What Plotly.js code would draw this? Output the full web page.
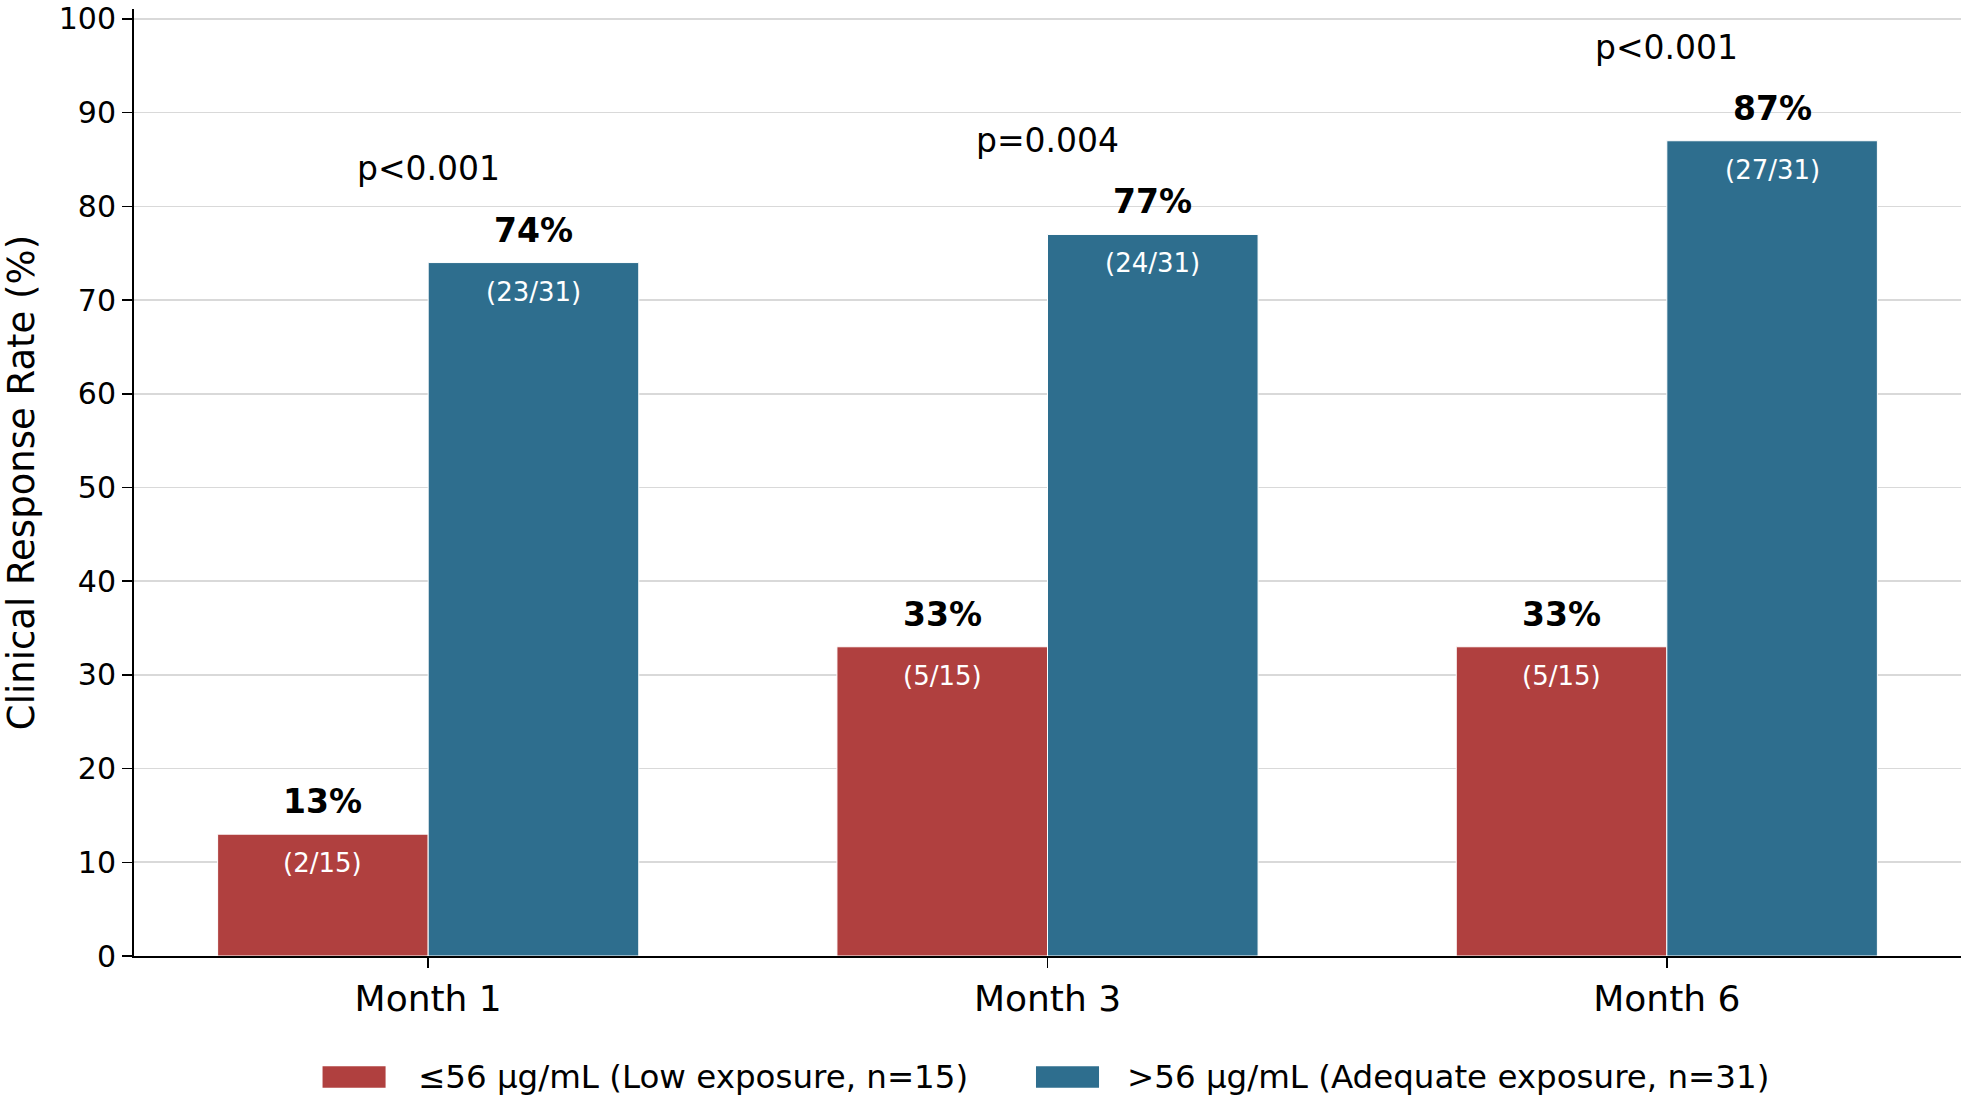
<!DOCTYPE html>
<html>
<head>
<meta charset="utf-8">
<script src="https://cdn.plot.ly/plotly-3.0.1.min.js"></script>
<style>
  html, body { margin: 0; padding: 0; background: #fff; }
  #chart { width: 1975px; height: 1100px; }
</style>
</head>
<body>
<div id="chart"></div>
<script>
// data
let months = ['Month 1', 'Month 3', 'Month 6']
let low_rate = [13, 33, 33]
let high_rate = [74, 77, 87]
let low_frac = ['2/15', '5/15', '5/15']
let high_frac = ['23/31', '24/31', '27/31']
let p_values = ['p<0.001', 'p=0.004', 'p<0.001']
let series_names = ['≤56 µg/mL (Low exposure, n=15)', '>56 µg/mL (Adequate exposure, n=31)']
let y_ticks = [0, 10, 20, 30, 40, 50, 60, 70, 80, 90, 100]

let red = '#b0403f'
let blue = '#2e6e8e'
let font = 'DejaVu Sans'

let low_trace = {
  x: months,
  y: low_rate,
  type: 'bar',
  name: series_names[0],
  offsetgroup: 'low',
  marker: { color: red, line: { color: 'white', width: 1 } },
  hoverinfo: 'skip'
}

let high_trace = {
  x: months,
  y: high_rate,
  type: 'bar',
  name: series_names[1],
  offsetgroup: 'high',
  marker: { color: blue, line: { color: 'white', width: 1 } },
  hoverinfo: 'skip'
}

// bar offsets in category units (each bar is half the group)
let bar_w = 0.34
let annotations = []
for (let i = 0; i < months.length; i++) {
  let xs = [i - bar_w / 2, i + bar_w / 2]
  let vals = [low_rate[i], high_rate[i]]
  let fracs = [low_frac[i], high_frac[i]]
  for (let k = 0; k < 2; k++) {
    annotations.push({
      x: xs[k], y: vals[k], xref: 'x', yref: 'y',
      text: '<b>' + vals[k] + '%</b>',
      showarrow: false, yanchor: 'bottom', yshift: 11,
      font: { family: font, size: 33, color: '#000' }
    })
    annotations.push({
      x: xs[k], y: vals[k], xref: 'x', yref: 'y',
      text: '(' + fracs[k] + ')',
      showarrow: false, yanchor: 'middle', yshift: -29,
      font: { family: font, size: 26, color: '#fff' }
    })
  }
  annotations.push({
    x: i, y: Math.max(low_rate[i], high_rate[i]) + 10, xref: 'x', yref: 'y',
    text: p_values[i],
    showarrow: false, yanchor: 'middle', yshift: 0,
    font: { family: font, size: 33, color: '#000' }
  })
}

// legend drawn by hand so the swatches keep the reference's proportions
let legend_x = [[0.1032, 0.1377, 0.1543], [0.4937, 0.5282, 0.5424]]
let legend_colors = [red, blue]
let shapes = []
for (let k = 0; k < 2; k++) {
  shapes.push({
    type: 'rect', xref: 'paper', yref: 'paper',
    x0: legend_x[k][0], x1: legend_x[k][1], y0: -0.1165, y1: -0.139,
    fillcolor: legend_colors[k], line: { width: 0 }
  })
  annotations.push({
    x: legend_x[k][2], y: -0.1275, xref: 'paper', yref: 'paper',
    xanchor: 'left', yanchor: 'middle', showarrow: false,
    text: series_names[k],
    font: { family: font, size: 32.5, color: '#000' }
  })
}

let layout = {
  width: 1975,
  height: 1100,
  margin: { l: 134, r: 14, t: 9, b: 144 },
  paper_bgcolor: '#fff',
  plot_bgcolor: '#fff',
  font: { family: font, color: '#000' },
  barmode: 'group',
  bargap: 0.32,
  bargroupgap: 0,
  showlegend: false,
  xaxis: {
    type: 'category',
    range: [-0.475, 2.475],
    showgrid: false,
    showline: true, linecolor: '#000', linewidth: 2,
    ticks: 'outside', ticklen: 10, tickwidth: 1.5, tickcolor: '#000',
    tickfont: { family: font, size: 36, color: '#000' },
    zeroline: false
  },
  yaxis: {
    range: [0, 101.06],
    tickvals: y_ticks,
    ticklabeloverflow: 'allow',
    showgrid: true, gridcolor: '#d9d9d9', gridwidth: 1.6,
    showline: true, linecolor: '#000', linewidth: 2,
    ticks: 'outside', ticklen: 10, tickwidth: 1.5, tickcolor: '#000',
    tickfont: { family: font, size: 30, color: '#000' },
    zeroline: false,
    title: { text: 'Clinical Response Rate (%)', standoff: 28, font: { family: font, size: 37, color: '#000' } }
  },
  annotations: annotations,
  shapes: shapes
}

Plotly.newPlot('chart', [low_trace, high_trace], layout, { displayModeBar: false, staticPlot: true })
</script>
</body>
</html>
